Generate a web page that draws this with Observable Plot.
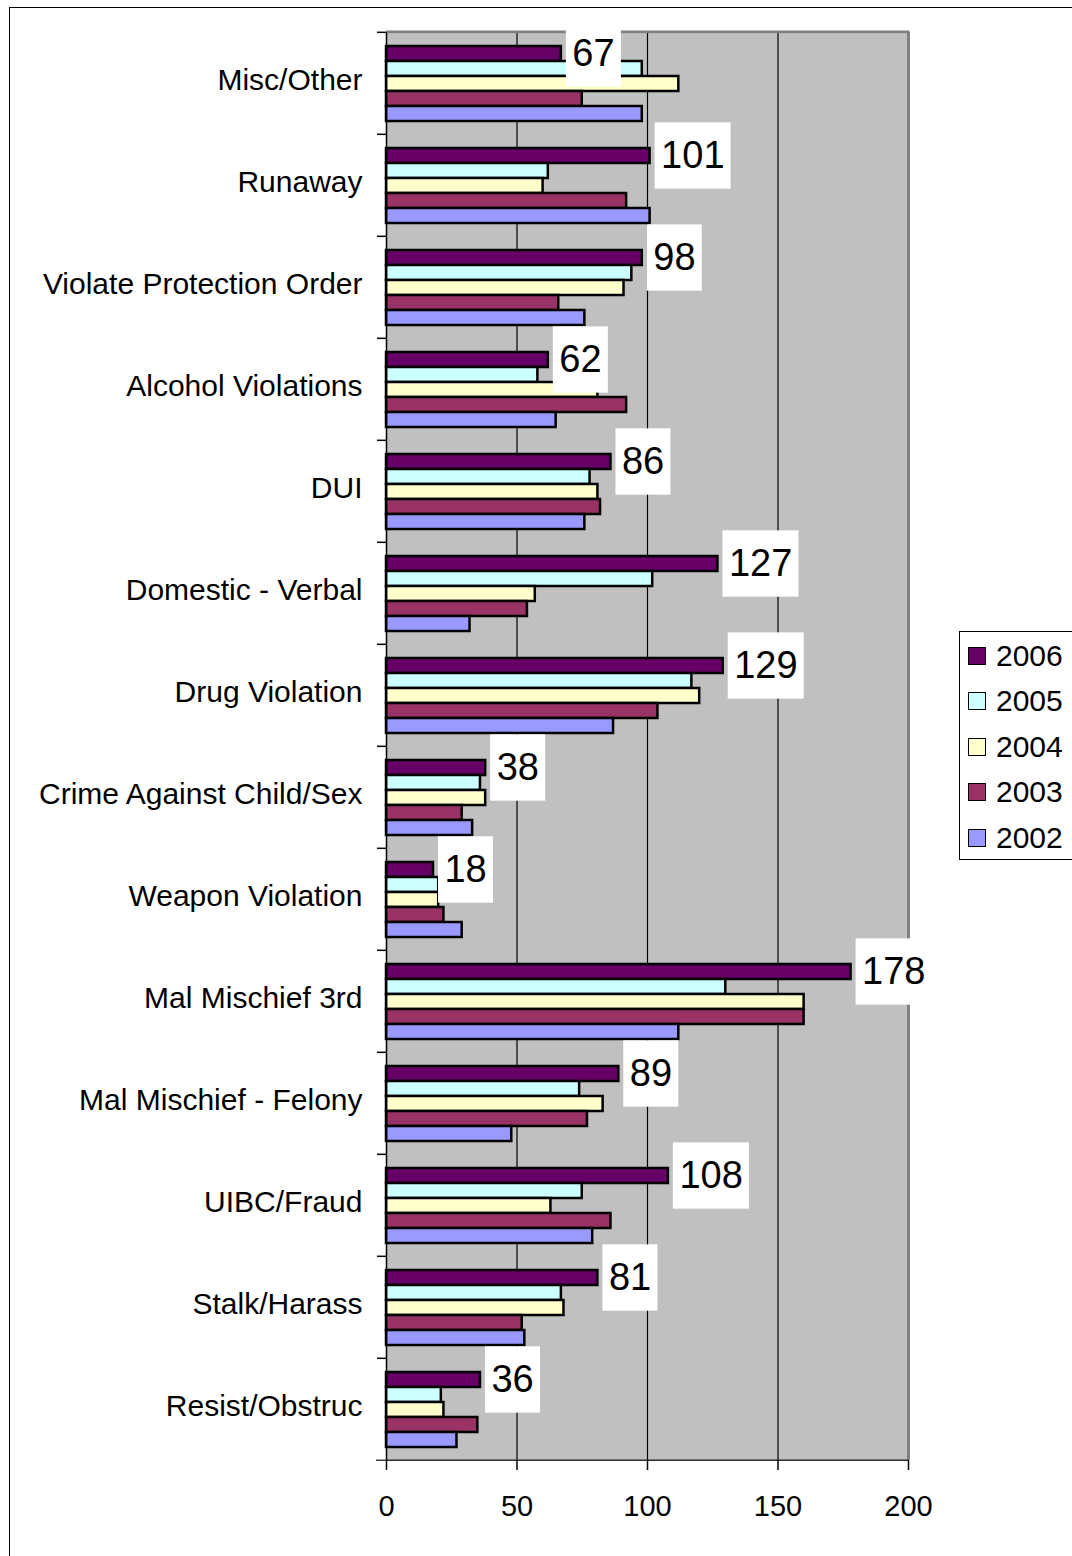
<!DOCTYPE html>
<html><head><meta charset="utf-8">
<script src="https://cdn.jsdelivr.net/npm/d3@7"></script>
<script src="https://cdn.jsdelivr.net/npm/@observablehq/plot@0.6"></script>
<style>
html,body{margin:0;padding:0;overflow:hidden;background:#fff;width:1072px;height:1556px;}
body{position:relative;font-family:"Liberation Sans",Arial,sans-serif;}
#frame{position:absolute;left:9px;top:7px;width:1200px;height:1700px;border:1px solid #000;}
#chart{position:absolute;left:0;top:0;}
#legend{position:absolute;left:959px;top:631px;width:200px;height:229px;border:1px solid #000;background:#fff;box-sizing:border-box;padding-top:1px;}
.row{height:45.5px;display:flex;align-items:center;font-size:30px;color:#000;}
.sw{width:16px;height:16px;border:1.5px solid #000;margin-left:8px;margin-right:10px;flex:none;}
</style></head><body>
<div id="frame"></div>
<div id="chart"></div>
<div id="legend"></div>
<script>
const categories = ["Misc/Other","Runaway","Violate Protection Order","Alcohol Violations","DUI","Domestic - Verbal","Drug Violation","Crime Against Child/Sex","Weapon Violation","Mal Mischief 3rd","Mal Mischief - Felony","UIBC/Fraud","Stalk/Harass","Resist/Obstruc"];
const years = ["2006","2005","2004","2003","2002"];
const v2006 = [67,101,98,62,86,127,129,38,18,178,89,108,81,36];
const v2005 = [98,62,94,58,78,102,117,36,20,130,74,75,67,21];
const v2004 = [112,60,91,81,81,57,120,38,20,160,83,63,68,22];
const v2003 = [75,92,66,92,82,54,104,29,22,160,77,86,52,35];
const v2002 = [98,101,76,65,76,32,87,33,29,112,48,79,53,27];
const colors = ["#660066","#CCFFFF","#FFFFCC","#993366","#9999FF"];
const xTicks = [0,50,100,150,200];

const series = [v2006, v2005, v2004, v2003, v2002];
const table = [];
categories.forEach((c, i) => years.forEach((y, j) => table.push({category: c, year: y, value: series[j][i]})));
const labels = table.filter(d => d.year === years[0]);

const W = 1072, H = 1556, mt = 29, mb = 94, ml = 386, mr = 164;
const po = 0.76;
const facetH = (H - mt - mb) / categories.length;
const bw = facetH / (years.length + 2 * po);
const boxPad = (67 - bw) / 2;

const chart = Plot.plot({
  width: W, height: H,
  marginTop: mt, marginBottom: mb, marginLeft: ml, marginRight: mr,
  style: {fontFamily: "'Liberation Sans', Arial, sans-serif", color: "#000", background: "transparent", overflow: "visible"},
  x: {domain: [0, 200]},
  y: {domain: years, paddingInner: 0, paddingOuter: po, axis: null},
  fy: {domain: categories, padding: 0},
  color: {domain: years, range: colors},
  marks: [
    Plot.frame({fill: "#c0c0c0", stroke: "none", insetTop: -0.6, insetBottom: -0.6}),
    Plot.gridX({ticks: [50, 100, 150], stroke: "#000", strokeOpacity: 1, strokeWidth: 1.2}),
    Plot.barX(table, {x: "value", y: "year", fy: "category", fill: "year", stroke: "#000", strokeWidth: 2.5}),
    Plot.ruleX([200], {stroke: "#808080", strokeWidth: 3}),
    Plot.barX([categories[0]], {fy: d => d, x1: 0, x2: 200, fill: "#808080", insetTop: -1.5, insetBottom: facetH - 1.5, insetRight: -1.5}),
    Plot.ruleX([0], {stroke: "#000", strokeWidth: 1.5}),
    Plot.barX([categories[categories.length - 1]], {fy: d => d, x1: 0, x2: 200, fill: "#000", insetTop: facetH - 0.75, insetBottom: -0.75, insetLeft: -10}),
    Plot.barX(labels.filter(d => d.value >= 100), {x1: "value", x2: "value", y: "year", fy: "category", fill: "#fff", insetLeft: 5, insetRight: -81, insetTop: -boxPad, insetBottom: -boxPad}),
    Plot.barX(labels.filter(d => d.value < 100), {x1: "value", x2: "value", y: "year", fy: "category", fill: "#fff", insetLeft: 5, insetRight: -60, insetTop: -boxPad, insetBottom: -boxPad}),
    Plot.text(labels, {x: "value", y: "year", fy: "category", text: d => String(d.value), textAnchor: "start", dx: 11, fontSize: 38, fill: "#000"}),
    Plot.axisFy({anchor: "left", tickSize: 9, tickFormat: () => "", dy: -facetH / 2, label: null, strokeWidth: 1.5}),
    Plot.axisFy({anchor: "left", tickSize: 0, tickPadding: 24, fontSize: 30, label: null, dy: -3}),
    Plot.axisX({anchor: "bottom", ticks: xTicks, tickSize: 10, tickPadding: 25, fontSize: 29, label: null, strokeWidth: 1.5})
  ]
});
document.getElementById("chart").appendChild(chart);

const legend = document.getElementById("legend");
years.forEach((y, j) => {
  const row = document.createElement("div");
  row.className = "row";
  const sw = document.createElement("span");
  sw.className = "sw";
  sw.style.background = colors[j];
  const t = document.createElement("span");
  t.textContent = y;
  row.appendChild(sw); row.appendChild(t);
  legend.appendChild(row);
});
</script>
</body></html>
